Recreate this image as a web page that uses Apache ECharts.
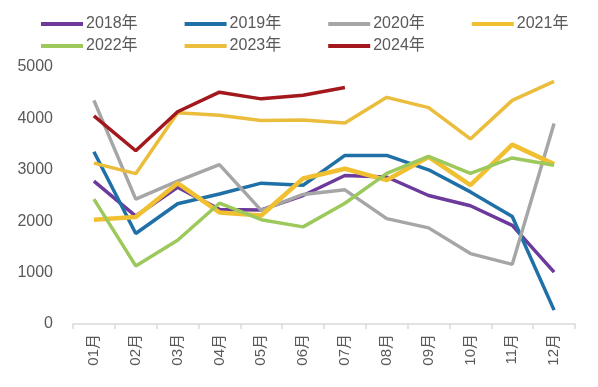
<!DOCTYPE html>
<html><head><meta charset="utf-8">
<script src="https://cdn.jsdelivr.net/npm/echarts@6/dist/echarts.min.js"></script>
<style>html,body{margin:0;padding:0;background:#fff}#c{width:598px;height:387px}</style>
</head><body><div id="c"></div>
<script>
const months = ['01月','02月','03月','04月','05月','06月','07月','08月','09月','10月','11月','12月'];
const yTicks = [0,1000,2000,3000,4000,5000];
const s2018 = [2780,2100,2660,2230,2220,2500,2890,2860,2500,2300,1920,1010];
const s2019 = [3350,1760,2340,2530,2740,2700,3280,3280,3000,2570,2090,270];
const s2020 = [4350,2430,2780,3100,2210,2520,2610,2050,1870,1370,1160,3900];
const s2021 = [2030,2080,2740,2170,2110,2830,3020,2800,3250,2700,3490,3110];
const s2022 = [2430,1130,1630,2350,2030,1890,2350,2930,3260,2930,3230,3090];
const s2023 = [3130,2925,4110,4060,3960,3970,3910,4410,4210,3600,4350,4720];
const s2024 = [4050,3370,4130,4510,4380,4450,4600];
const names = ['2018年','2019年','2020年','2021年','2022年','2023年','2024年'];
const colors = ['#6b3a9b','#2070a8','#a6a6a6','#f0c030','#9cc85c','#ebbd3c','#a3181c'];
const widths = [3.5,3.5,3.5,4.5,3.5,3.5,3.5];
const data = [s2018,s2019,s2020,s2021,s2022,s2023,s2024];
const FONT = 'Liberation Sans, "Noto Sans CJK SC", sans-serif';
const chart = echarts.init(document.getElementById('c'));
const legendCommon = {
  icon: 'rect', itemWidth: 42, itemHeight: 4, itemGap: 47,
  textStyle: {fontSize: 16, color: '#595959', fontFamily: FONT, padding:[0,0,0,-2]}
};
chart.setOption({
  animation: false,
  legend: [
    Object.assign({}, legendCommon, {left: 36, top: 11, data: names.slice(0,4)}),
    Object.assign({}, legendCommon, {left: 36, top: 33, data: names.slice(4)})
  ],
  grid: {left: 73, right: 23, top: 67, bottom: 63, containLabel: false},
  xAxis: {
    type: 'category', data: months, boundaryGap: true,
    axisLine: {lineStyle: {color: '#d9d9d9', width: 1.5}},
    axisTick: {show: true, length: 5, lineStyle: {color: '#d9d9d9', width: 1.5}},
    axisLabel: {rotate: 90, fontSize: 15, color: '#595959', fontFamily: FONT, margin: 10}
  },
  yAxis: {
    type: 'value', min: yTicks[0], max: yTicks[yTicks.length-1], interval: 1000,
    axisLine: {show: false}, axisTick: {show: false}, splitLine: {show: false},
    axisLabel: {fontSize: 16, color: '#595959', fontFamily: FONT, margin: 20,
      formatter: v => String(v)}
  },
  series: data.map((d,i) => ({
    name: names[i], type: 'line', data: d, symbol: 'none', smooth: false,
    lineStyle: {color: colors[i], width: widths[i]}, itemStyle: {color: colors[i]},
    z: i === 6 ? 10 : 2 + i
  }))
});
</script></body></html>
